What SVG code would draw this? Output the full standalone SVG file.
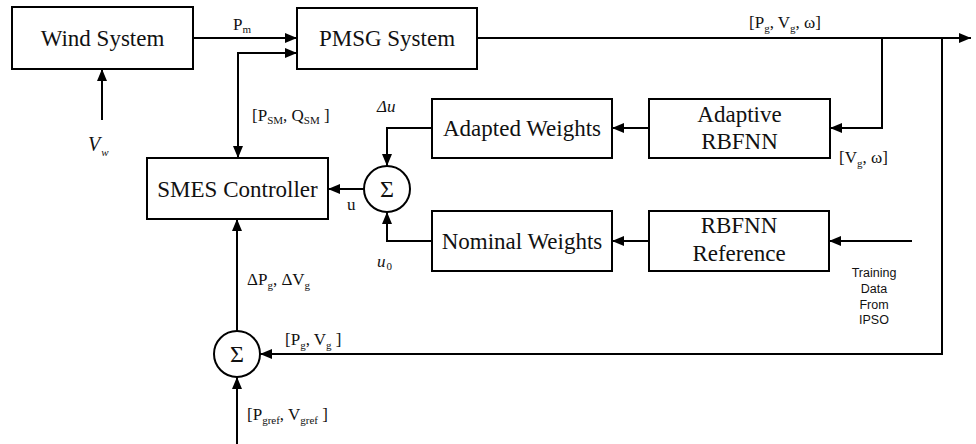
<svg xmlns="http://www.w3.org/2000/svg" width="976" height="444" viewBox="0 0 976 444">
<defs>
<marker id="ah" viewBox="0 0 12 10" refX="12" refY="5" markerWidth="12" markerHeight="10" markerUnits="userSpaceOnUse" orient="auto-start-reverse">
<path d="M0,0 L12,5 L0,10 Z" fill="#000"/>
</marker>
</defs>
<style>
.box{fill:#fff;stroke:#000;stroke-width:2}
.ln{fill:none;stroke:#000;stroke-width:2}
.t{font-family:'Liberation Serif','DejaVu Serif',serif;font-size:23px;fill:#111;text-anchor:middle}
.l{font-family:'Liberation Serif','DejaVu Serif',serif;font-size:17px;fill:#111}
.s{font-size:11px}
.sig{font-family:'Liberation Serif','DejaVu Serif',serif;font-size:24px;fill:#111;text-anchor:middle}
.sans{font-family:'Liberation Sans',Arial,sans-serif;font-size:12.5px;fill:#111;text-anchor:middle}
</style>
<rect width="976" height="444" fill="#fff"/>
<g id="connectors">
<line class="ln" x1="193" y1="38" x2="297" y2="38" marker-end="url(#ah)"/>
<line class="ln" x1="102" y1="120" x2="102" y2="69" marker-end="url(#ah)"/>
<polyline class="ln" points="297,53 238,53 238,158" marker-start="url(#ah)" marker-end="url(#ah)"/>
<line class="ln" x1="477" y1="38" x2="971" y2="38" marker-end="url(#ah)"/>
<polyline class="ln" points="882,38 882,128 830,128" marker-end="url(#ah)"/>
<polyline class="ln" points="942,38 942,354 260,354" marker-end="url(#ah)"/>
<line class="ln" x1="649" y1="128" x2="612" y2="128" marker-end="url(#ah)"/>
<polyline class="ln" points="432,128 387,128 387,166" marker-end="url(#ah)"/>
<line class="ln" x1="364" y1="189" x2="328" y2="189" marker-end="url(#ah)"/>
<polyline class="ln" points="432,241 387,241 387,212" marker-end="url(#ah)"/>
<line class="ln" x1="649" y1="241" x2="612" y2="241" marker-end="url(#ah)"/>
<line class="ln" x1="912" y1="241" x2="829" y2="241" marker-end="url(#ah)"/>
<line class="ln" x1="237" y1="331" x2="237" y2="219" marker-end="url(#ah)"/>
<line class="ln" x1="237" y1="444" x2="237" y2="377" marker-end="url(#ah)"/>
</g>
<g id="wind"><rect class="box" x="12" y="7" width="181" height="62"/><text class="t" x="102.5" y="46">Wind System</text></g>
<g id="pmsg"><rect class="box" x="297" y="8" width="180" height="61"/><text class="t" x="387" y="46">PMSG System</text></g>
<g id="adaptive"><rect class="box" x="649" y="99" width="181" height="59"/><text class="t" x="739.5" y="122">Adaptive</text><text class="t" x="739.5" y="149">RBFNN</text></g>
<g id="adapted"><rect class="box" x="432" y="99" width="180" height="59"/><text class="t" x="522" y="136">Adapted Weights</text></g>
<g id="smes"><rect class="box" x="147" y="158" width="181" height="61"/><text class="t" x="237.5" y="197">SMES Controller</text></g>
<g id="nominal"><rect class="box" x="432" y="211" width="180" height="60"/><text class="t" x="522" y="249">Nominal Weights</text></g>
<g id="reference"><rect class="box" x="649" y="211" width="180" height="60"/><text class="t" x="739" y="233">RBFNN</text><text class="t" x="739" y="261">Reference</text></g>
<g id="sum1"><circle class="box" cx="387" cy="189" r="23"/><text class="sig" x="387" y="197">Σ</text></g>
<g id="sum2"><circle class="box" cx="237" cy="354" r="23"/><text class="sig" x="237" y="362">Σ</text></g>
<g id="labels">
<text class="l" x="233" y="30">P<tspan class="s" dy="3">m</tspan></text>
<text class="l" x="252" y="121">[P<tspan class="s" dy="3">SM</tspan><tspan dy="-3">, Q</tspan><tspan class="s" dy="3">SM</tspan><tspan dy="-3"> ]</tspan></text>
<text class="l" x="88" y="151" style="font-size:20px;font-style:italic">V<tspan class="s" dx="1" dy="5" style="font-size:11px">w</tspan></text>
<text class="l" x="749" y="28">[P<tspan class="s" dy="4">g</tspan><tspan dy="-4">, V</tspan><tspan class="s" dy="4">g</tspan><tspan dy="-4">, ω]</tspan></text>
<text class="l" x="839" y="163">[V<tspan class="s" dy="4">g</tspan><tspan dy="-4">, ω]</tspan></text>
<text class="l" x="377" y="112" style="font-style:italic">Δu</text>
<text class="l" x="347" y="210">u</text>
<text class="l" x="377" y="267" style="font-style:italic">u<tspan class="s" dx="1" dy="3" style="font-style:normal">0</tspan></text>
<text class="l" x="247" y="285">ΔP<tspan class="s" dy="4">g</tspan><tspan dy="-4">, ΔV</tspan><tspan class="s" dy="4">g</tspan></text>
<text class="l" x="285" y="345">[P<tspan class="s" dy="4">g</tspan><tspan dy="-4">, V</tspan><tspan class="s" dy="4">g</tspan><tspan dy="-4"> ]</tspan></text>
<text class="l" x="247" y="420">[P<tspan class="s" dy="4">gref</tspan><tspan dy="-4">, V</tspan><tspan class="s" dy="4">gref</tspan><tspan dy="-4"> ]</tspan></text>
<text class="sans" x="874" y="277">Training</text>
<text class="sans" x="874" y="293">Data</text>
<text class="sans" x="874" y="309">From</text>
<text class="sans" x="874" y="324">IPSO</text>
</g>
</svg>
